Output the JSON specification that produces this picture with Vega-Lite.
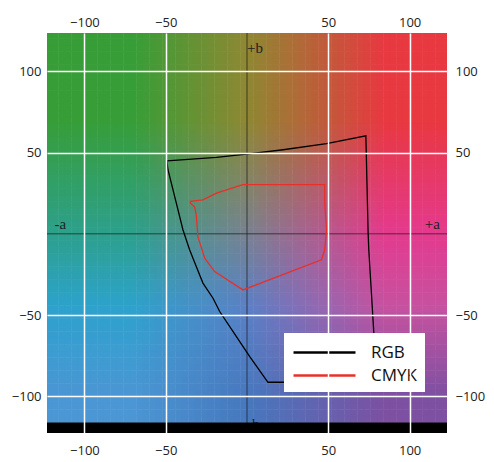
{
  "$schema": "https://vega.github.io/schema/vega-lite/v6.json",
  "width": 400,
  "height": 400,
  "autosize": "none",
  "padding": {"left": 47, "top": 33, "right": 47, "bottom": 29},
  "background": "white",
  "config": {"view": {"stroke": null}},
  "datasets": {
    "grid": [{"a": [-122,-118,-114,-110,-106,-102,-98,-94,-90,-86,-82,-78,-74,-70,-66,-62,-58,-54,-50,-46,-42,-38,-34,-30,-26,-22,-18,-14,-10,-6,-2,2,6,10,14,18,22,26,30,34,38,42,46,50,54,58,62,66,70,74,78,82,86,90,94,98,102,106,110,114,118,122],
              "b": [-122,-118,-114,-110,-106,-102,-98,-94,-90,-86,-82,-78,-74,-70,-66,-62,-58,-54,-50,-46,-42,-38,-34,-30,-26,-22,-18,-14,-10,-6,-2,2,6,10,14,18,22,26,30,34,38,42,46,50,54,58,62,66,70,74,78,82,86,90,94,98,102,106,110,114,118,122]}],
    "gamut": [
      {"s": "RGB", "i": 0, "a": -49.3, "b": 44.9},
      {"s": "RGB", "i": 1, "a": -18.8, "b": 47.0},
      {"s": "RGB", "i": 2, "a": -0.4, "b": 49.0},
      {"s": "RGB", "i": 3, "a": 22.2, "b": 51.7},
      {"s": "RGB", "i": 4, "a": 48.9, "b": 55.4},
      {"s": "RGB", "i": 5, "a": 73.1, "b": 60.3},
      {"s": "RGB", "i": 6, "a": 74.5, "b": 0.4},
      {"s": "RGB", "i": 7, "a": 74.9, "b": -9.8},
      {"s": "RGB", "i": 8, "a": 78.0, "b": -61.0},
      {"s": "RGB", "i": 9, "a": 79.5, "b": -91.3},
      {"s": "RGB", "i": 10, "a": 12.9, "b": -91.3},
      {"s": "RGB", "i": 11, "a": 1.7, "b": -75.5},
      {"s": "RGB", "i": 12, "a": -6.5, "b": -63.2},
      {"s": "RGB", "i": 13, "a": -16.8, "b": -47.8},
      {"s": "RGB", "i": 14, "a": -20.9, "b": -39.6},
      {"s": "RGB", "i": 15, "a": -27.1, "b": -30.3},
      {"s": "RGB", "i": 16, "a": -31.2, "b": -20.1},
      {"s": "RGB", "i": 17, "a": -35.3, "b": -9.8},
      {"s": "RGB", "i": 18, "a": -39.4, "b": 2.5},
      {"s": "RGB", "i": 19, "a": -44.5, "b": 23.0},
      {"s": "RGB", "i": 20, "a": -48.6, "b": 39.4},
      {"s": "RGB", "i": 21, "a": -49.3, "b": 44.9},
      {"s": "CMYK", "i": 0, "a": -2.5, "b": 30.2},
      {"s": "CMYK", "i": 1, "a": 47.8, "b": 30.2},
      {"s": "CMYK", "i": 2, "a": 47.8, "b": 18.9},
      {"s": "CMYK", "i": 3, "a": 48.9, "b": 2.5},
      {"s": "CMYK", "i": 4, "a": 47.8, "b": -9.8},
      {"s": "CMYK", "i": 5, "a": 45.8, "b": -16.0},
      {"s": "CMYK", "i": 6, "a": -2.5, "b": -34.5},
      {"s": "CMYK", "i": 7, "a": -19.9, "b": -23.2},
      {"s": "CMYK", "i": 8, "a": -26.0, "b": -15.0},
      {"s": "CMYK", "i": 9, "a": -30.2, "b": -1.7},
      {"s": "CMYK", "i": 10, "a": -31.2, "b": 11.7},
      {"s": "CMYK", "i": 11, "a": -32.2, "b": 16.4},
      {"s": "CMYK", "i": 12, "a": -34.9, "b": 18.9},
      {"s": "CMYK", "i": 13, "a": -34.7, "b": 19.9},
      {"s": "CMYK", "i": 14, "a": -27.1, "b": 20.9},
      {"s": "CMYK", "i": 15, "a": -18.8, "b": 25.0},
      {"s": "CMYK", "i": 16, "a": -2.5, "b": 30.2}
    ],
    "leftlabels": [
      {"t": "+b", "a": 0, "b": 114.3},
      {"t": "-a", "a": -118.4, "b": 6},
      {"t": "-b", "a": 0, "b": -117}
    ],
    "rightlabels": [
      {"t": "+a", "a": 118.6, "b": 6}
    ]
  },
  "layer": [
    {
      "data": {"name": "grid"},
      "transform": [{"flatten": ["a"]}, {"flatten": ["b"]}],
      "mark": {
        "type": "rect",
        "clip": true,
        "width": 7,
        "height": 7,
        "fill": {"expr": "'' + rgb(clamp(-datum.a/70,0,1)*(clamp(datum.b/70,0,1)*55+max(0,min(1+datum.b/45,1-datum.b/70))*45+max(0,min(-datum.b/45,(datum.b+100)/55))*45+clamp(-(datum.b+45)/55,0,1)*75)+(1-clamp(-datum.a/70,0,1)-clamp(datum.a/85,0,1))*(clamp(datum.b/70,0,1)*142+max(0,min(1+datum.b/45,1-datum.b/70))*120+max(0,min(-datum.b/45,(datum.b+100)/55))*90+clamp(-(datum.b+45)/55,0,1)*70)+clamp(datum.a/85,0,1)*(clamp(datum.b/70,0,1)*232+max(0,min(1+datum.b/45,1-datum.b/70))*228+max(0,min(-datum.b/45,(datum.b+100)/55))*198+clamp(-(datum.b+45)/55,0,1)*125), clamp(-datum.a/70,0,1)*(clamp(datum.b/70,0,1)*158+max(0,min(1+datum.b/45,1-datum.b/70))*160+max(0,min(-datum.b/45,(datum.b+100)/55))*162+clamp(-(datum.b+45)/55,0,1)*150)+(1-clamp(-datum.a/70,0,1)-clamp(datum.a/85,0,1))*(clamp(datum.b/70,0,1)*136+max(0,min(1+datum.b/45,1-datum.b/70))*130+max(0,min(-datum.b/45,(datum.b+100)/55))*128+clamp(-(datum.b+45)/55,0,1)*120)+clamp(datum.a/85,0,1)*(clamp(datum.b/70,0,1)*56+max(0,min(1+datum.b/45,1-datum.b/70))*58+max(0,min(-datum.b/45,(datum.b+100)/55))*82+clamp(-(datum.b+45)/55,0,1)*80), clamp(-datum.a/70,0,1)*(clamp(datum.b/70,0,1)*55+max(0,min(1+datum.b/45,1-datum.b/70))*140+max(0,min(-datum.b/45,(datum.b+100)/55))*205+clamp(-(datum.b+45)/55,0,1)*212)+(1-clamp(-datum.a/70,0,1)-clamp(datum.a/85,0,1))*(clamp(datum.b/70,0,1)*50+max(0,min(1+datum.b/45,1-datum.b/70))*145+max(0,min(-datum.b/45,(datum.b+100)/55))*198+clamp(-(datum.b+45)/55,0,1)*190)+clamp(datum.a/85,0,1)*(clamp(datum.b/70,0,1)*64+max(0,min(1+datum.b/45,1-datum.b/70))*142+max(0,min(-datum.b/45,(datum.b+100)/55))*160+clamp(-(datum.b+45)/55,0,1)*162))"}
      },
      "encoding": {
        "x": {"field": "a", "type": "quantitative", "scale": {"domain": [-123, 123], "nice": false, "zero": false}, "axis": null},
        "y": {"field": "b", "type": "quantitative", "scale": {"domain": [-122.5, 123.5], "nice": false, "zero": false}, "axis": null}
      }
    },
    {
      "data": {"values": [{}]},
      "mark": {"type": "rule", "color": "#222", "opacity": 0.75, "strokeWidth": 1},
      "encoding": {"x": {"datum": 0, "type": "quantitative", "axis": null}}
    },
    {
      "data": {"values": [{}]},
      "mark": {"type": "rule", "color": "#222", "opacity": 0.75, "strokeWidth": 1},
      "encoding": {"y": {"datum": 0, "type": "quantitative", "axis": null}}
    },
    {
      "data": {"name": "leftlabels"},
      "mark": {"type": "text", "align": "left", "baseline": "middle", "font": "Liberation Serif", "fontSize": 15, "color": "#222"},
      "encoding": {
        "x": {"field": "a", "type": "quantitative", "axis": {"orient": "top", "values": [-100, -50, 50, 100], "title": null, "grid": false, "ticks": false, "domain": false, "labelFont": "Open Sans", "labelFontSize": 13, "labelColor": "#222", "labelPadding": 4}},
        "y": {"field": "b", "type": "quantitative", "axis": {"orient": "right", "values": [-100, -50, 50, 100], "title": null, "grid": false, "ticks": false, "domain": false, "labelFont": "Open Sans", "labelFontSize": 13, "labelColor": "#222", "labelPadding": 8}},
        "text": {"field": "t"}
      }
    },
    {
      "data": {"name": "rightlabels"},
      "mark": {"type": "text", "align": "right", "baseline": "middle", "font": "Liberation Serif", "fontSize": 15, "color": "#222"},
      "encoding": {
        "x": {"field": "a", "type": "quantitative", "axis": null},
        "y": {"field": "b", "type": "quantitative", "axis": null},
        "text": {"field": "t"}
      }
    },
    {
      "data": {"name": "gamut"},
      "mark": {"type": "line", "strokeWidth": 1.3, "clip": true},
      "encoding": {
        "x": {"field": "a", "type": "quantitative", "axis": {"orient": "bottom", "values": [-100, -50, 50, 100], "title": null, "grid": true, "gridColor": "white", "gridWidth": 1.5, "gridOpacity": 1, "ticks": false, "domain": false, "labelFont": "Open Sans", "labelFontSize": 13, "labelColor": "#222", "labelPadding": 11, "zindex": 1}},
        "y": {"field": "b", "type": "quantitative", "axis": {"orient": "left", "values": [-100, -50, 50, 100], "title": null, "grid": true, "gridColor": "white", "gridWidth": 1.5, "gridOpacity": 1, "ticks": false, "domain": false, "labelFont": "Open Sans", "labelFontSize": 13, "labelColor": "#222", "labelPadding": 6, "zindex": 1}},
        "order": {"field": "i", "type": "quantitative"},
        "color": {
          "field": "s", "type": "nominal",
          "scale": {"domain": ["RGB", "CMYK"], "range": ["#000000", "#e8302a"]},
          "legend": {"title": null, "orient": "none", "legendX": 237, "legendY": 300, "symbolType": "M-1,0H5.2", "symbolSize": 400, "symbolStrokeWidth": 2.5, "labelFont": "Open Sans", "labelFontSize": 17, "labelColor": "#111", "fillColor": "white", "padding": 8, "labelOffset": 56, "rowPadding": 3}
        }
      }
    },
    {
      "data": {"values": [{}]},
      "mark": {"type": "rect", "color": "black"},
      "encoding": {
        "x": {"datum": -123, "type": "quantitative", "axis": null},
        "x2": {"datum": 123},
        "y": {"datum": -122.5, "type": "quantitative", "axis": null},
        "y2": {"datum": -116}
      }
    }
  ]
}
